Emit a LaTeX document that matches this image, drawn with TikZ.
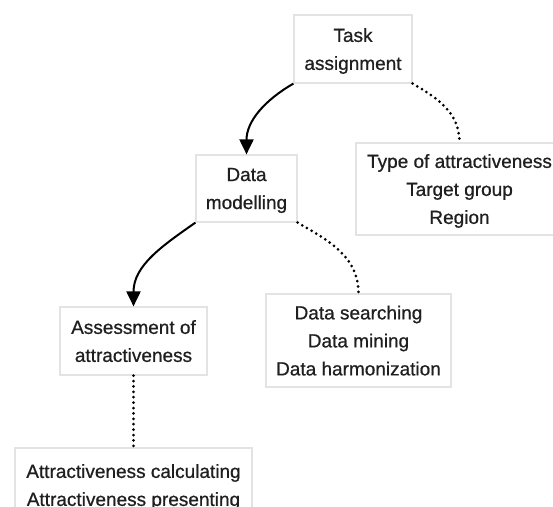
\documentclass[tikz,border=0pt]{standalone}
\usepackage{fontspec}
\setmainfont{Liberation Sans}
\newfontfamily\boxfont[FakeBold=0.7]{Liberation Sans}
\usetikzlibrary{arrows.meta}

\begin{document}
\begin{tikzpicture}[
    x=1pt, y=-1pt,
    box/.style={draw=gray!22, line width=1.2pt, align=center, inner sep=0pt,
        font=\boxfont\fontsize{19}{28}\selectfont, text=black!88,
        text depth=-4pt},
    arrow/.style={-{Triangle[width=14pt,length=15pt]}, line width=2pt},
    dots/.style={line width=3pt, line cap=round, dash pattern=on 0pt off 5.4pt}
]
\useasboundingbox (0,0) rectangle (553,506);
\clip (0,0) rectangle (553,506);

% Steps of the process
\node[box, minimum width=118, minimum height=68] (task) at (353,49) {Task\\assignment};
\node[box, minimum width=101, minimum height=67] (model) at (246.5,188.5) {Data\\modelling};
\node[box, minimum width=147, minimum height=68] (assess) at (133.5,341) {Assessment of\\attractiveness};

% What each step covers
\node[box, minimum width=207, minimum height=92] (type) at (459.5,189) {Type of attractiveness\\Target group\\Region};
\node[box, minimum width=185, minimum height=93] (search) at (358.5,340.5) {Data searching\\Data mining\\Data harmonization};
\node[box, minimum width=237, minimum height=74] (calc) at (133.5,485) {Attractiveness calculating\\Attractiveness presenting};

% Main flow
\draw[arrow] (task.south west) to[out=210, in=90] (model.north);
\draw[arrow] (model.south west) to[out=215, in=90] (assess.north);

% Details
\draw[dots] (task.south east) to[out=-30, in=90] (type.north);
\draw[dots] (model.south east) to[out=-30, in=90] (search.north);
\draw[dots] (assess.south) -- (calc.north);

\end{tikzpicture}
\end{document}
